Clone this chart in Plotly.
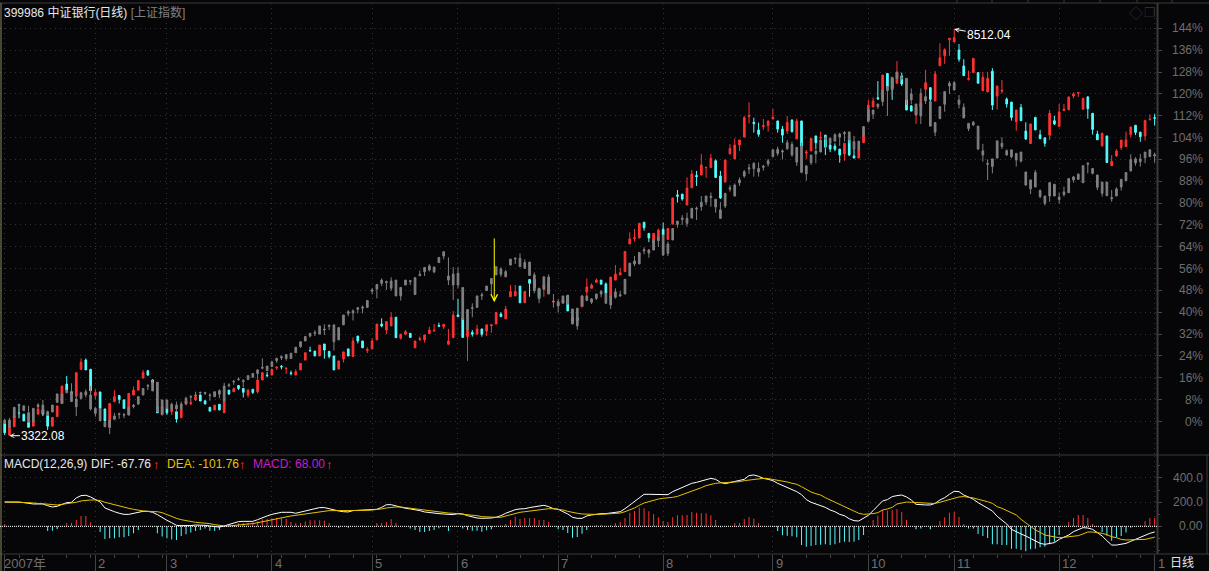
import plotly.graph_objects as go

# values are in % above the start
bank_open = [
    -0.7,-5.0,-1.9,3.2,2.7,-0.4,-1.7,2.7,4.2,2.2,
    -1.7,1.8,6.6,13.7,10.9,9.3,19.1,22.5,19.1,9.5,
    10.8,4.6,-2.1,7.3,9.5,7.9,2.4,9.7,11.5,15.9,
    18.6,15.2,5.4,2.4,4.8,3.6,3.6,1.4,6.4,6.5,
    7.9,9.7,7.6,5.2,4.2,6.3,3.2,11.5,10.9,13.2,
    12.1,9.7,11.8,10.9,15.2,17.0,17.0,19.6,20.2,19.3,
    17.8,17.0,18.9,22.5,26.0,25.8,24.0,28.4,25.7,24.0,
    19.2,22.9,26.6,23.8,31.3,29.5,26.0,26.6,29.9,35.7,
    33.5,35.0,38.2,30.5,32.0,32.3,27.0,30.0,29.9,32.2,
    33.1,35.2,34.7,28.3,30.7,39.0,38.0,31.1,32.6,32.0,
    33.9,33.1,35.1,35.7,39.4,37.6,45.7,46.0,49.6,43.5,
    52.0,52.0,48.5,48.4,47.0,43.8,42.5,43.3,46.0,38.0,
    38.0,42.0,47.4,48.8,51.0,51.8,50.4,46.0,51.8,53.7,
    54.9,65.0,67.0,67.2,73.0,68.9,65.0,67.5,70.4,66.7,
    72.3,83.0,83.3,79.3,85.6,90.1,90.3,93.0,93.0,95.5,
    89.9,87.7,98.0,96.2,101.3,104.2,111.8,109.6,106.8,108.0,
    108.4,110.8,110.1,107.1,106.4,110.4,103.5,110.1,98.3,99.1,
    104.6,103.8,104.9,101.3,100.9,99.8,98.0,103.1,97.3,96.5,
    102.1,109.8,115.2,118.6,118.0,127.5,125.7,123.9,126.6,118.0,
    115.6,112.3,115.3,121.7,122.3,117.4,130.3,134.0,139.8,139.0,
    136.1,130.2,125.3,127.8,127.8,121.2,120.8,128.3,119.2,121.0,
    118.1,117.0,109.8,115.0,106.4,101.8,111.4,105.0,103.9,104.9,
    110.2,108.1,113.9,114.2,119.2,120.2,114.4,118.9,112.9,105.3,
    100.9,104.6,93.7,97.3,100.3,100.7,105.1,108.5,106.0,104.6,
    110.5,111.3]
bank_high = [
    0.5,-1.7,2.4,6.0,2.7,-0.2,-0.1,6.6,5.0,2.2,
    1.5,5.7,13.0,16.7,11.0,17.9,23.1,23.1,19.3,11.8,
    10.9,4.6,6.6,11.5,9.7,8.1,10.3,12.8,15.2,18.9,
    18.9,15.5,5.4,5.4,4.8,4.5,3.6,4.6,7.5,7.6,
    9.7,10.0,7.6,5.2,6.0,6.3,7.5,11.5,12.5,13.2,
    12.1,11.8,11.8,15.2,18.0,18.1,19.1,20.3,20.7,19.8,
    18.6,19.1,21.3,25.2,27.4,25.8,28.0,28.4,25.7,24.0,
    22.2,25.5,26.6,30.8,31.3,29.5,27.2,30.5,35.7,37.8,
    36.6,40.0,38.2,32.0,33.5,32.3,29.5,31.1,31.7,34.7,
    35.7,36.2,35.6,33.9,40.5,44.9,38.0,33.3,33.5,35.4,
    33.9,35.4,35.7,40.0,40.0,42.3,50.0,50.0,49.6,47.6,
    52.0,53.0,48.8,51.0,52.0,44.5,43.7,45.5,46.3,40.5,
    41.0,46.0,52.4,50.6,52.4,51.8,50.9,52.9,57.3,56.3,
    62.3,69.3,70.5,72.6,73.0,68.9,68.9,70.7,72.9,70.7,
    81.9,84.8,83.3,89.4,92.1,91.8,98.0,93.1,98.0,96.0,
    91.8,95.8,101.6,103.7,103.1,111.9,116.9,111.3,109.5,110.8,
    110.1,114.5,110.1,108.2,111.9,110.7,111.0,110.1,99.5,103.7,
    104.6,106.2,104.9,102.0,101.9,99.8,101.9,103.1,99.7,99.5,
    104.6,117.8,118.7,124.7,126.9,127.5,125.7,132.0,127.8,118.0,
    116.0,115.1,120.2,128.8,122.3,128.4,138.5,136.7,140.4,143.7,
    138.3,132.7,128.5,133.0,127.8,128.1,128.1,129.4,122.9,125.1,
    118.7,117.0,114.1,116.3,109.6,109.0,111.4,106.8,103.9,114.1,
    112.0,116.3,116.3,118.9,120.6,120.6,118.4,119.2,112.9,106.5,
    105.6,104.6,97.6,99.8,103.1,106.2,107.9,108.5,106.0,110.3,
    112.5,112.6]
bank_low = [
    -5.0,-5.2,-1.9,1.2,0.2,-2.1,-1.7,2.7,2.0,-3.1,
    -1.7,1.8,6.6,10.9,10.1,9.3,18.9,18.9,10.3,8.1,
    4.8,0.2,-2.1,7.0,6.6,4.8,2.4,9.7,11.3,15.9,
    16.7,14.2,3.2,2.4,2.4,2.4,-0.4,1.4,6.0,6.0,
    7.5,7.5,6.4,3.8,4.2,4.2,3.2,9.7,10.9,11.5,
    8.8,8.8,10.1,10.3,15.2,16.2,17.0,18.9,19.1,17.4,
    16.9,17.0,18.9,22.5,25.6,24.0,23.9,23.0,23.1,18.9,
    19.2,21.6,24.0,23.8,28.6,27.0,25.1,26.6,29.9,34.5,
    32.0,35.0,30.7,30.0,31.6,30.8,27.0,29.5,28.9,32.2,
    33.1,34.7,33.9,28.0,30.7,38.4,30.8,22.2,31.1,32.0,
    31.1,31.3,32.5,35.7,38.4,37.6,45.7,46.0,43.5,43.5,
    45.7,48.5,45.2,45.7,46.7,43.5,42.3,43.2,40.5,36.0,
    36.0,42.0,44.5,48.8,50.8,50.3,47.0,46.0,51.8,53.7,
    54.9,65.0,65.9,67.2,69.9,65.7,65.0,67.5,68.3,66.7,
    72.3,80.2,80.9,79.3,85.6,86.3,90.3,89.3,93.0,89.2,
    81.5,87.7,98.0,96.2,99.1,104.2,109.2,105.8,104.3,106.8,
    106.2,110.8,105.8,102.1,105.3,105.8,103.5,100.9,96.2,99.1,
    99.7,103.1,97.6,98.7,99.0,94.8,95.5,97.2,96.5,96.5,
    102.1,109.8,115.2,117.8,118.0,122.7,117.8,123.9,122.9,114.1,
    113.7,109.0,114.0,119.0,117.0,117.4,130.3,131.0,133.9,139.0,
    131.8,126.7,124.9,127.8,123.9,121.2,120.5,114.1,114.3,120.2,
    115.0,110.2,106.5,110.2,103.1,101.8,106.8,103.6,100.7,103.1,
    108.6,107.8,113.7,114.2,118.4,118.9,114.4,110.9,105.1,103.2,
    100.9,94.7,93.7,97.0,99.5,100.7,104.1,104.9,102.5,102.9,
    110.4,108.4]
bank_close = [
    -4.1,-1.9,2.0,3.0,0.2,-2.1,-0.1,4.6,2.7,-1.7,
    1.5,5.7,13.0,11.5,10.1,17.9,21.7,18.9,11.3,10.7,
    4.8,0.2,6.6,9.1,8.1,4.8,10.3,11.5,15.0,17.9,
    17.0,14.2,3.2,5.4,3.2,4.5,0.9,4.6,7.5,6.9,
    9.1,7.5,6.4,3.8,6.0,4.2,7.5,10.1,12.0,12.1,
    10.7,11.5,10.6,15.2,17.9,16.8,19.1,19.9,20.0,19.5,
    17.6,18.2,21.3,25.2,25.9,24.0,28.0,26.2,23.8,18.9,
    22.2,25.5,24.0,29.5,29.5,27.0,26.4,29.5,35.7,35.0,
    36.6,38.2,30.7,32.0,32.9,30.8,29.5,30.4,31.7,33.5,
    33.4,34.9,35.6,29.5,39.0,38.4,30.8,33.3,32.0,33.9,
    32.0,35.4,35.4,40.0,38.4,41.2,47.6,47.6,43.5,47.6,
    50.6,49.0,45.5,50.0,51.0,44.0,43.5,44.5,40.5,36.5,
    37.0,46.0,49.3,49.9,51.8,50.3,47.0,52.9,54.0,54.5,
    62.3,66.9,67.3,72.6,71.0,67.2,68.9,70.1,68.3,70.7,
    81.9,82.5,81.5,85.5,90.7,89.7,94.0,93.1,96.4,89.4,
    81.9,95.8,100.0,101.3,103.1,111.3,112.1,109.1,105.2,108.4,
    110.1,111.5,107.1,104.9,109.5,106.2,110.1,100.9,98.7,103.7,
    102.1,104.1,100.5,99.8,99.7,97.6,101.9,97.6,96.5,99.5,
    104.6,115.9,117.4,118.2,126.9,122.7,122.0,128.1,123.6,114.1,
    113.7,115.1,120.2,124.1,118.0,127.3,133.2,136.2,140.4,140.6,
    132.7,126.7,125.6,133.0,123.9,126.1,125.7,115.9,122.9,121.3,
    116.3,111.4,114.1,110.2,103.5,109.0,106.8,103.6,101.9,112.9,
    109.0,113.4,114.4,118.9,120.0,120.5,118.4,114.6,107.0,103.2,
    105.6,94.9,95.3,99.1,103.1,103.1,107.9,105.9,104.3,110.3,
    110.7,111.1]

sh_open = [
    -0.7,-2.1,1.5,5.8,4.0,-0.1,-0.1,5.5,3.2,2.2,
    3.5,7.0,6.6,10.5,7.3,5.4,8.5,9.7,4.6,3.0,
    0.3,-1.9,-2.1,0.8,2.6,2.3,2.4,5.5,6.4,9.7,
    12.9,11.2,3.6,2.7,4.8,4.6,4.6,4.6,6.6,8.9,
    9.4,10.4,10.3,9.5,9.1,10.0,7.5,13.1,14.5,15.3,
    14.6,15.4,16.2,17.6,19.5,18.6,20.1,22.3,23.3,23.1,
    23.1,25.2,27.4,29.5,31.3,32.3,32.0,33.5,34.8,29.2,
    29.9,35.4,39.6,39.8,41.1,41.5,41.8,47.7,48.5,50.6,
    50.9,48.8,46.0,46.0,50.0,51.2,46.5,53.4,54.9,55.5,
    54.8,58.2,60.6,51.8,50.0,50.0,37.4,33.5,41.4,41.8,
    46.0,48.0,50.4,53.7,53.9,53.0,57.3,59.5,56.7,56.1,
    53.5,47.9,44.9,48.5,46.7,43.8,42.3,43.5,43.0,35.7,
    35.0,42.3,44.3,43.7,45.1,46.7,43.3,42.7,45.5,46.0,
    46.7,53.3,57.7,57.7,62.5,61.7,62.8,66.2,61.0,61.6,
    66.5,72.2,74.0,72.6,74.5,77.8,78.7,80.4,82.0,78.6,
    74.4,78.9,85.1,82.6,87.4,89.9,92.5,92.6,91.4,93.1,
    94.3,97.0,98.2,98.7,99.9,97.6,95.0,91.3,90.7,94.8,
    98.0,98.7,103.4,101.9,102.7,104.2,105.4,103.1,99.7,99.5,
    104.6,110.4,112.6,115.3,117.2,121.2,121.4,125.7,125.5,117.8,
    117.8,112.3,111.9,117.4,108.2,106.0,111.0,116.2,122.9,121.4,
    116.2,111.2,107.3,108.6,99.8,97.6,94.2,93.4,96.5,100.7,
    97.6,97.0,95.8,95.4,86.6,85.2,85.9,82.4,79.9,82.6,
    82.6,81.3,83.1,83.8,88.5,88.7,87.5,94.2,90.9,85.8,
    83.6,82.7,81.6,82.6,85.9,88.2,91.8,94.7,95.2,96.6,
    97.0,97.3]
sh_high = [
    0.8,1.3,5.2,6.3,6.0,5.7,4.8,6.6,7.9,4.0,
    6.0,10.1,10.1,11.5,14.0,9.3,10.9,11.8,13.0,5.4,
    4.8,-0.1,0.5,3.2,3.2,3.2,5.2,6.4,9.3,12.1,
    13.7,15.2,14.4,7.9,7.9,6.9,7.3,7.3,9.1,9.7,
    10.9,11.0,10.9,10.3,10.9,11.8,14.2,14.0,15.2,16.2,
    15.5,16.8,17.6,19.1,23.1,20.3,22.3,23.4,24.2,24.7,
    25.0,27.2,29.2,31.1,32.3,33.5,35.0,35.6,35.6,35.4,
    34.4,39.0,40.8,41.1,41.8,42.5,44.3,48.8,50.3,52.4,
    51.6,52.8,51.8,49.1,51.8,51.8,52.7,55.3,56.4,57.6,
    56.6,60.1,62.2,60.1,56.5,56.5,49.1,41.0,43.3,46.0,
    47.2,49.6,52.4,56.7,56.5,55.5,59.5,60.1,61.6,59.4,
    58.5,54.6,48.8,53.0,53.9,46.7,44.8,46.0,46.3,41.2,
    41.5,46.0,46.0,45.2,46.7,48.2,47.0,46.0,48.8,47.8,
    52.1,58.0,60.6,61.9,63.8,63.2,66.5,67.5,68.3,65.9,
    70.7,73.4,75.6,76.5,78.1,78.7,82.6,82.6,83.9,81.4,
    80.4,83.6,86.6,87.2,89.4,92.1,94.3,94.9,94.9,94.0,
    96.2,99.5,100.7,99.7,103.1,102.5,100.4,102.1,94.0,97.6,
    99.5,103.1,104.5,104.1,105.6,105.8,106.4,106.3,104.6,102.7,
    108.2,115.0,114.1,116.3,121.4,122.7,126.1,127.8,127.0,125.7,
    122.0,116.3,122.0,119.0,117.2,109.5,115.3,120.8,124.7,124.7,
    119.6,116.5,109.2,110.1,108.2,101.7,96.0,96.2,102.8,104.1,
    99.7,99.5,98.2,98.7,91.4,88.5,92.1,85.0,82.6,87.5,
    86.9,83.9,86.0,89.0,89.9,90.9,93.7,94.9,92.7,90.3,
    87.7,87.7,84.8,85.8,88.7,91.2,97.9,96.8,98.0,98.7,
    99.8,98.5]
sh_low = [
    -0.7,-2.1,1.5,1.2,3.8,-0.1,-0.1,5.0,2.4,2.2,
    3.5,7.0,6.6,10.5,7.3,2.0,8.1,8.8,4.0,1.8,
    0.3,-1.9,-4.6,0.5,1.0,1.2,2.4,4.8,6.0,9.7,
    11.5,11.2,3.6,2.7,4.8,4.2,3.6,4.6,6.0,7.3,
    9.1,9.8,9.7,7.6,9.1,8.5,7.5,12.5,13.4,15.0,
    12.5,15.4,16.2,15.4,19.1,18.6,20.1,21.5,22.5,22.3,
    23.1,25.2,27.0,29.5,30.8,31.3,32.0,31.7,33.5,26.0,
    29.9,35.4,38.6,37.0,39.6,39.6,41.8,46.6,45.1,49.6,
    48.2,47.9,46.0,44.3,50.0,50.0,46.5,53.4,53.3,55.0,
    54.3,58.2,59.4,50.0,44.5,48.8,37.4,33.5,38.2,41.8,
    44.5,48.0,46.3,53.7,53.0,53.0,57.3,57.7,56.7,56.1,
    53.5,47.0,43.3,48.5,46.7,41.7,39.9,43.5,43.0,35.7,
    33.6,42.3,44.3,43.0,44.5,45.5,43.3,41.2,45.0,45.7,
    46.7,53.3,56.9,57.7,61.3,60.0,62.8,63.9,60.6,60.6,
    66.5,71.0,72.0,71.4,74.5,73.8,77.2,79.3,78.7,76.5,
    74.4,78.2,84.2,82.4,86.3,89.3,90.7,89.7,89.7,91.9,
    93.4,97.0,97.3,96.0,99.5,97.0,93.6,90.9,88.2,94.0,
    94.6,98.7,100.0,101.3,102.7,100.9,102.5,101.9,99.7,99.5,
    104.6,110.0,110.8,114.5,115.6,111.9,119.0,125.7,125.0,116.0,
    116.3,112.3,109.0,116.3,108.2,104.6,110.7,113.5,120.0,121.4,
    114.7,111.2,106.4,108.4,99.5,95.2,88.5,90.9,96.5,99.8,
    97.5,96.4,93.4,94.9,86.4,83.3,85.9,81.8,79.1,80.5,
    82.6,79.8,82.4,83.8,87.5,88.5,87.3,90.9,90.5,84.8,
    82.4,82.7,80.5,82.6,84.6,88.2,91.5,93.7,93.4,94.6,
    97.0,94.8]
sh_close = [
    0.5,0.5,5.2,6.3,5.7,3.2,4.8,6.0,6.0,3.6,
    6.0,10.1,10.1,11.5,10.7,8.2,10.5,10.9,9.7,4.8,
    4.8,-0.1,0.5,2.0,2.8,2.5,5.2,5.9,9.1,12.1,
    13.2,14.2,14.4,7.9,7.9,6.3,6.0,6.4,8.5,9.1,
    9.7,10.6,10.6,9.7,10.9,11.3,13.0,13.4,14.7,15.5,
    15.0,16.8,17.6,18.9,19.8,20.3,21.8,23.1,23.7,24.5,
    25.0,27.2,29.2,31.1,32.3,32.6,35.0,33.8,35.2,35.4,
    34.4,39.0,40.2,40.5,41.7,41.9,44.3,48.2,50.2,51.8,
    51.2,51.5,51.8,49.1,51.8,51.6,52.7,53.9,56.4,57.0,
    56.6,60.1,62.2,53.3,54.0,54.3,49.1,41.0,41.7,46.0,
    46.4,49.6,52.4,56.7,55.9,54.9,59.5,59.8,59.8,58.3,
    58.4,53.7,48.8,53.0,52.9,44.0,43.9,46.0,46.3,41.2,
    41.5,46.0,46.0,44.9,46.7,47.6,47.0,46.0,47.5,46.4,
    52.1,58.0,58.8,61.9,62.9,62.8,66.5,67.5,68.3,65.0,
    70.7,73.4,74.5,74.4,78.1,78.1,80.3,82.6,82.5,81.4,
    77.5,83.6,85.6,86.6,88.5,91.5,92.9,94.6,92.7,93.5,
    95.5,99.5,99.7,99.1,102.1,101.5,100.4,100.9,93.6,97.6,
    99.1,103.1,103.8,103.7,105.0,105.3,105.8,106.0,102.5,102.7,
    108.0,114.1,114.1,116.3,121.4,122.7,126.1,127.8,126.0,125.7,
    120.0,116.3,116.5,119.0,117.2,109.5,115.3,120.8,123.9,124.1,
    117.8,115.1,109.2,109.6,108.2,99.1,94.5,96.2,102.8,101.9,
    99.2,99.5,98.2,98.7,91.4,88.5,91.2,84.6,82.6,87.5,
    86.9,82.2,84.1,89.0,89.6,90.6,93.7,94.6,92.7,90.3,
    87.7,87.7,82.0,85.2,88.7,91.2,96.0,96.2,96.2,98.7,
    99.5,97.7]

dif = [
    201,201,204,201,196,188,185,185,185,171,
    160,166,182,196,199,235,254,257,243,224,
    201,152,135,121,108,99,99,108,121,124,
    124,116,97,72,50,30,8,6,3,6,
    11,11,8,3,-3,-6,3,14,25,39,
    41,41,41,55,72,86,99,110,116,116,
    116,108,116,127,135,146,155,155,146,135,
    127,121,119,130,132,132,132,135,141,157,
    179,179,168,163,149,144,138,130,119,113,
    110,105,102,97,97,105,102,88,77,69,
    66,66,69,75,88,108,124,138,144,146,
    155,163,168,174,163,146,141,121,102,75,
    66,66,86,94,102,105,105,110,116,121,
    146,177,204,240,265,265,265,265,259,262,
    287,304,323,337,356,364,375,392,397,389,
    364,353,362,367,375,389,420,425,414,397,
    389,378,356,339,323,306,287,262,221,199,
    185,177,157,135,121,99,88,63,47,44,
    66,91,130,174,210,221,246,254,259,243,
    218,182,177,177,177,190,218,237,265,290,
    287,259,243,224,196,174,146,127,83,52,
    19,-25,-47,-63,-80,-99,-119,-141,-149,-141,
    -135,-108,-91,-72,-44,-25,-11,-14,-25,-52,
    -80,-119,-155,-155,-146,-141,-124,-108,-86,-72,
    -58,-47]
dea = [
    201,201,201,199,199,196,193,190,188,182,
    177,177,182,188,190,199,210,215,218,218,
    213,199,188,177,166,157,149,141,132,127,
    124,124,121,113,97,80,66,55,47,39,
    33,30,28,22,14,8,3,3,8,14,
    17,19,22,30,41,47,58,63,72,77,
    86,91,97,102,108,116,121,127,130,130,
    130,127,127,130,132,132,132,135,138,144,
    152,157,160,160,155,146,144,138,130,124,
    119,116,113,110,108,105,102,99,97,88,
    80,77,75,75,75,86,94,105,116,121,
    127,130,138,146,146,146,141,135,124,119,
    108,102,99,99,99,99,102,102,102,110,
    121,135,152,174,193,204,218,226,232,235,
    240,248,262,273,287,301,320,337,348,356,
    359,362,362,364,370,378,384,389,395,397,
    395,389,381,373,367,356,348,328,306,284,
    270,259,237,218,201,182,160,144,124,108,
    99,99,105,113,135,144,157,185,196,201,
    199,199,196,193,190,190,199,210,224,237,
    243,246,243,235,224,215,204,190,163,149,
    130,108,94,58,30,3,-30,-50,-72,-80,
    -88,-94,-91,-88,-83,-77,-63,-47,-47,-52,
    -58,-69,-86,-94,-108,-113,-113,-113,-113,-108,
    -99,-91]
macd = [
    19,0,0,10,0,-10,0,0,0,-39,
    -36,-22,-3,28,30,52,86,86,33,0,
    -47,-105,-99,-99,-91,-91,-80,-58,-30,0,
    0,-8,-58,-85,-99,-108,-113,-80,-66,-52,
    -39,-30,-19,-36,-39,-30,0,11,8,25,
    30,30,33,41,58,63,66,69,66,61,
    36,28,28,39,50,50,50,47,28,0,
    -11,0,-11,0,0,6,0,0,28,28,
    36,58,30,0,0,-19,-30,-47,-47,-39,
    -30,-16,-3,-39,0,0,-19,-30,-36,-36,
    -44,-33,-25,0,6,19,52,80,61,69,
    69,69,52,52,36,0,-25,-30,-55,-94,
    -88,-61,-30,0,8,8,0,8,28,36,
    69,113,127,155,149,124,102,75,44,36,
    75,91,91,94,119,113,108,108,91,52,
    -8,0,0,28,28,61,77,63,28,0,
    0,-6,-39,-74,-77,-83,-91,-155,-168,-163,
    -155,-152,-149,-155,-149,-135,-127,-130,-127,-113,
    -72,0,52,88,135,130,135,144,119,52,
    0,-25,-19,0,-25,0,44,75,113,119,
    77,19,-19,-19,-63,-80,-97,-149,-149,-155,
    -155,-185,-185,-196,-207,-190,-185,-174,-168,-149,
    -127,-72,0,36,69,94,94,69,19,0,
    -47,-77,-119,-91,-80,-52,-11,0,8,44,
    69,68]

month_starts = [0,19,34,56,77,95,116,138,161,181,199,221,241]
month_labels = ["2007年","2","3","4","5","6","7","8","9","10","11","12","1"]
pct_ticks = [144,136,128,120,112,104,96,88,80,72,64,56,48,40,32,24,16,8,0]
macd_ticks = [400,200,0]
macd_tick_labels = ["400.0","200.0","0.00"]

W, H = 1209, 571
BG = "#060609"
RED = "#FF3232"
CYAN = "#52FFFF"
GRAY = "#808080"
GRID = "#333333"
TXT = "#6e6e6e"
FONT = "Liberation Sans, Noto Sans CJK SC, sans-serif"

days = list(range(len(bank_open)))
for a in [bank_high, bank_low, bank_close, sh_open, sh_high, sh_low, sh_close, dif, dea, macd]:
    assert len(a) == len(days), len(a)

fig = go.Figure()
fig.add_trace(go.Candlestick(
    x=days, open=bank_open, high=bank_high, low=bank_low, close=bank_close,
    increasing=dict(line=dict(color=RED, width=1), fillcolor=RED),
    decreasing=dict(line=dict(color=CYAN, width=1), fillcolor=CYAN),
    hoverinfo="skip"))
fig.add_trace(go.Candlestick(
    x=days, open=sh_open, high=sh_high, low=sh_low, close=sh_close,
    increasing=dict(line=dict(color=GRAY, width=1), fillcolor=GRAY),
    decreasing=dict(line=dict(color=GRAY, width=1), fillcolor=GRAY),
    hoverinfo="skip"))

# slightly transparent colours make plotly round the thin bars to 1px instead of widening them
bar_colors = ["rgba(255,50,50,0.99)" if v > 0 else "rgba(82,255,255,0.99)" for v in macd]
fig.add_trace(go.Bar(x=days, y=macd, width=0.21, marker=dict(color=bar_colors, line=dict(width=0)),
                     xaxis="x2", yaxis="y2", hoverinfo="skip"))
fig.add_trace(go.Scatter(x=days, y=dif, mode="lines", line=dict(color="#ffffff", width=1),
                         xaxis="x2", yaxis="y2", hoverinfo="skip"))
fig.add_trace(go.Scatter(x=days, y=dea, mode="lines", line=dict(color="#E6C200", width=1),
                         xaxis="x2", yaxis="y2", hoverinfo="skip"))


def py(px):
    return 1 - px / H


x_range = [-0.985, 241.5]
x_end = 1157 / W
fig.update_layout(
    width=W, height=H, margin=dict(l=0, r=0, t=0, b=0), autosize=False,
    paper_bgcolor=BG, plot_bgcolor=BG, showlegend=False, boxgap=0.5, boxmode="overlay",
    font=dict(family=FONT, color=TXT, size=13),
    xaxis=dict(domain=[0, x_end], range=x_range, anchor="y", rangeslider=dict(visible=False),
               showticklabels=False, ticks="", tickvals=month_starts, showgrid=True,
               gridcolor=GRID, griddash="1px,4px", gridwidth=1, zeroline=False),
    yaxis=dict(domain=[py(455), py(3)], range=[-12.27, 153.3], anchor="x", side="right",
               tickvals=pct_ticks, showticklabels=False,
               ticks="outside", ticklen=4, tickcolor="#444444", showgrid=True,
               gridcolor=GRID, griddash="1px,4px", zeroline=False),
    xaxis2=dict(domain=[0, x_end], range=x_range, anchor="y2", showticklabels=False,
                ticks="outside", ticklen=17, tickcolor="#444444", tickvals=month_starts,
                showgrid=True, gridcolor=GRID, griddash="1px,4px", zeroline=False,
                minor=dict(ticks="outside", ticklen=3, tickcolor="#444444",
                           tickvals=list(range(3, 242, 5)))),
    yaxis2=dict(domain=[py(554), py(456)], range=[-229, 582], anchor="x2", side="right",
                tickvals=macd_ticks, showticklabels=False, ticks="outside", ticklen=4,
                tickcolor="#444444", showgrid=True, gridcolor=GRID, griddash="1px,4px",
                zeroline=False,
                minor=dict(ticks="outside", ticklen=2, tickcolor="#444444",
                           tickvals=[-200, -100, 100, 300, 500])),
)

# panel frames
for x0, y0, x1, y1 in [(0, 3, W, 3), (0, 455, W, 455), (0, 554, W, 554)]:
    fig.add_shape(type="line", xref="paper", yref="paper", x0=x0 / W, x1=x1 / W, y0=py(y0), y1=py(y1),
                  line=dict(color="#3a3a3a", width=1))
fig.add_shape(type="line", xref="paper", yref="paper", x0=1157.5 / W, x1=1157.5 / W, y0=py(554), y1=py(3),
              line=dict(color="#3a3a3a", width=2))
fig.add_shape(type="line", xref="paper", yref="paper", x0=1207 / W, x1=1207 / W, y0=py(554), y1=py(455),
              line=dict(color="#3a3a3a", width=1))
fig.add_shape(type="line", xref="paper", yref="paper", x0=1 / W, x1=1 / W, y0=py(571), y1=py(3),
              line=dict(color="#8a8458", width=1))
fig.add_shape(type="line", xref="x2", yref="y2", x0=x_range[0], x1=x_range[1], y0=0, y1=0,
              line=dict(color="#ffffff", width=1, dash="1px,1px"))
for notch in [957, 992, 1028, 1064, 1100, 1137, 1172]:
    fig.add_shape(type="line", xref="paper", yref="paper", x0=notch / W, x1=notch / W, y0=py(3), y1=py(0),
                  line=dict(color="#3a3a3a", width=1))


def label(px, py_, text, color, size=12, anchor="left"):
    fig.add_annotation(xref="paper", yref="paper", x=px / W, y=py(py_), text=text, showarrow=False,
                       xanchor=anchor, yanchor="middle", font=dict(family=FONT, color=color, size=size))


label(2, 13, "399986 中证银行(日线) <span style='color:#808080'>[上证指数]</span>", "#e8e8e8")
label(2, 464, "MACD(12,26,9)", "#e8e8e8")
label(89, 464, "DIF: -67.76", "#e8e8e8")
label(151, 464, "<b>↑</b>", RED, 13)
label(165, 464, "DEA: -101.76", "#E6C200")
label(237, 464, "<b>↑</b>", RED, 13)
label(251, 464, "MACD: 68.00", "#C81EC8")
label(324, 464, "<b>↑</b>", RED, 13)
label(1182, 563, "日线", "#e8e8e8", 12, "center")
label(1136, 13, "◇", "#2e2e2e", 14, "center")
label(1150, 13, "❐", "#2e2e2e", 13, "center")

for v in pct_ticks:
    fig.add_annotation(xref="paper", yref="y", x=1205 / W, y=v, text=str(v) + "%", showarrow=False,
                       xanchor="right", yanchor="middle", font=dict(family=FONT, color=TXT, size=12))
for v, t in zip(macd_ticks, macd_tick_labels):
    fig.add_annotation(xref="paper", yref="y2", x=1205 / W, y=v, text=t, showarrow=False,
                       xanchor="right", yanchor="middle", font=dict(family=FONT, color=TXT, size=12))

for m, lab in zip(month_starts, month_labels):
    fig.add_annotation(xref="x2", yref="paper", x=m, y=py(563), text=lab, showarrow=False,
                       xanchor="left", yanchor="middle", xshift=1 if m else -3,
                       font=dict(family=FONT, color=TXT, size=13))

# high / low markers
fig.add_annotation(x=199, y=143.7, xref="x", yref="y", text="8512.04", ax=35, ay=6, showarrow=True,
                   arrowhead=5, arrowsize=0.8, arrowwidth=1, arrowcolor="#ffffff",
                   font=dict(family=FONT, color="#ffffff", size=12))
fig.add_annotation(x=1, y=-5.2, xref="x", yref="y", text="3322.08", ax=34, ay=0, showarrow=True,
                   arrowhead=5, arrowsize=0.8, arrowwidth=1, arrowcolor="#ffffff",
                   font=dict(family=FONT, color="#ffffff", size=12))
# yellow marker arrow
fig.add_annotation(x=102.6, y=43.7, xref="x", yref="y", ax=102.6, ay=67.6, axref="x", ayref="y", text="",
                   showarrow=True, arrowhead=5, arrowsize=1.3, arrowwidth=1, arrowcolor="#ffff00")

# the page's default body margin would shift the figure by 8px
fig.write_html("out.html", config={"displayModeBar": False},
               post_script="document.body.style.margin='0';document.documentElement.style.overflow='hidden';")
